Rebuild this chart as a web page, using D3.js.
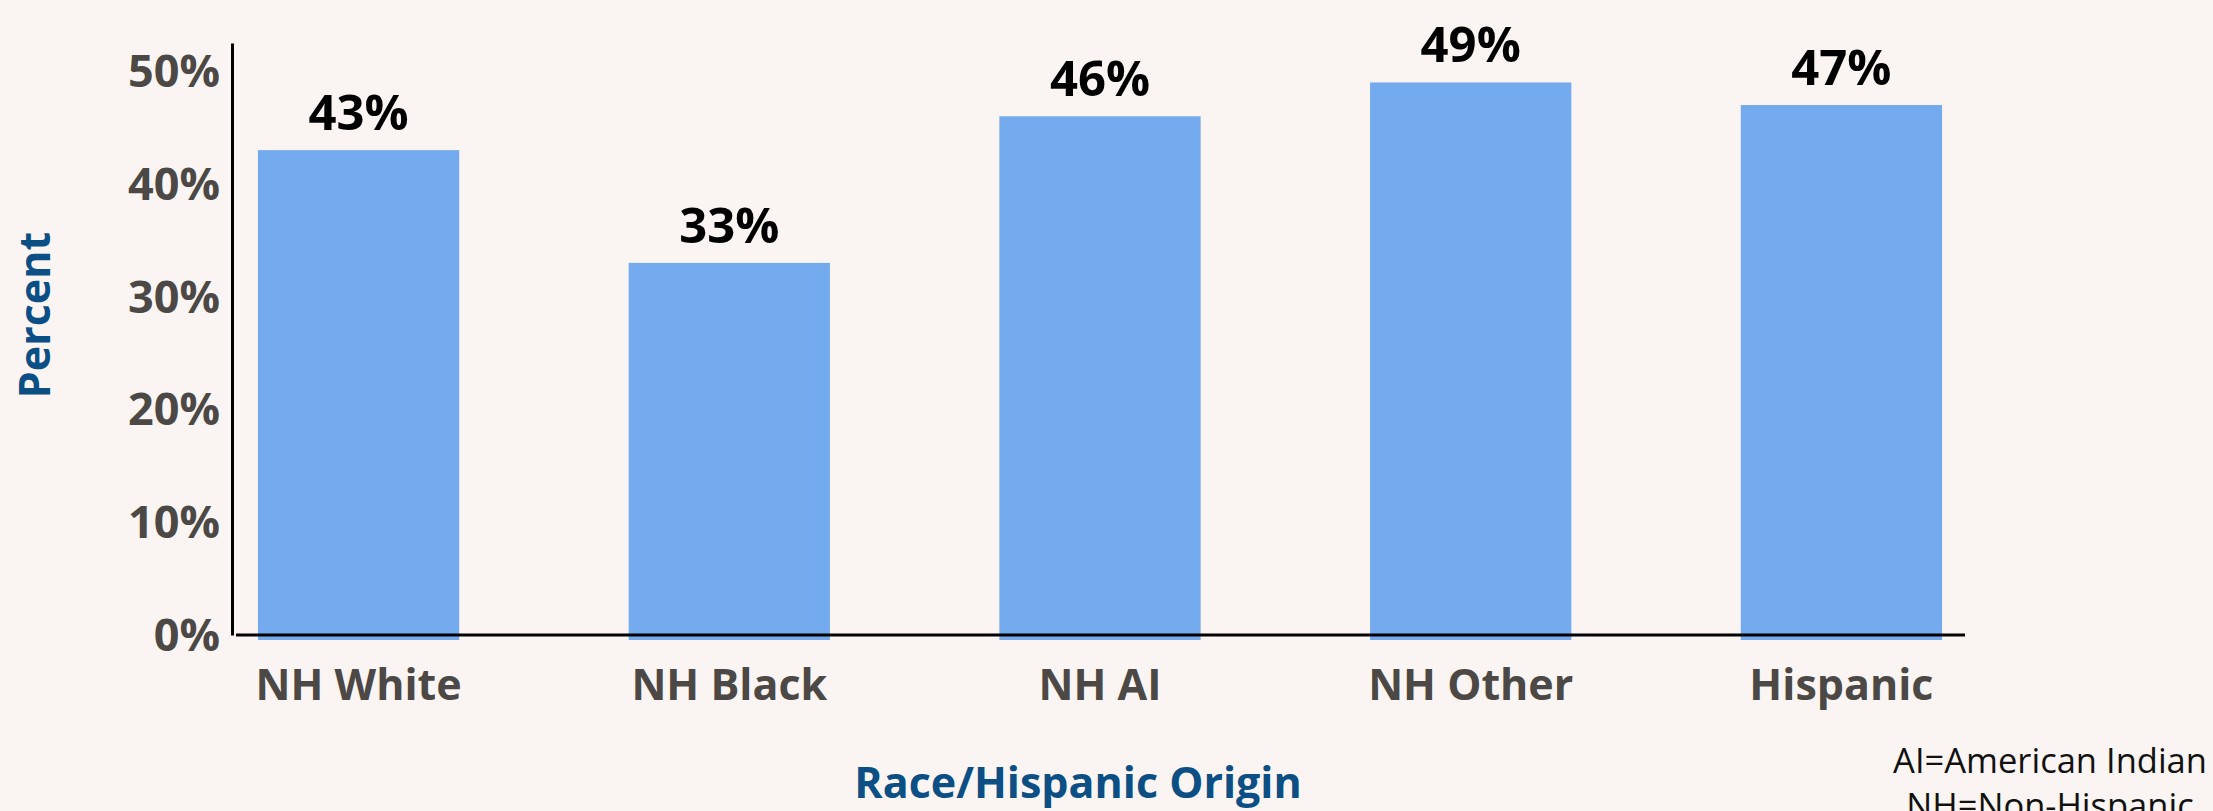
<!DOCTYPE html>
<head>
  <meta charset="utf-8">
  <script src="https://d3js.org/d3.v7.min.js"></script>
  <style>
  body { margin: 0; background: #faf5f2; }
  svg { display: block; font-family: "Open Sans", "DejaVu Sans", sans-serif; }
  .axis path { stroke: #000; stroke-width: 3px; }
  .axis text { font-family: "Open Sans", "DejaVu Sans", sans-serif; }
  .y.axis text { font-size: 45px; font-weight: 700; fill: #4b4845; }
  .x.axis text { font-size: 43px; font-weight: 700; fill: #4b4845; }
  .value { font-size: 49px; font-weight: 700; fill: #000; }
  .title { font-size: 43px; font-weight: 700; fill: #0b4f84; }
  .note { font-size: 34.5px; fill: #111; }
  </style>
</head>

<body>
  <script>
    // data
    var categories = ["NH White", "NH Black", "NH AI", "NH Other", "Hispanic"];
    var percents = [43, 33, 46, 49, 47];
    var yTicks = [0, 10, 20, 30, 40, 50];
    var notes = ["AI=American Indian", "NH=Non-Hispanic"];

    var width = 2213, height = 811;

    var svg = d3.select("body")
      .append("svg")
      .attr("width", width)
      .attr("height", height);

    svg.append("rect")
      .attr("width", width)
      .attr("height", height)
      .attr("fill", "#faf5f2");

    // scales
    var xScale = d3.scaleBand()
      .domain(categories)
      .range([232, 1968])
      .paddingInner(0.457)
      .paddingOuter(0.07);

    var yScale = d3.scaleLinear()
      .domain([0, 52.5])
      .range([635, 43]);

    // bars (they run a little under the axis line)
    svg.selectAll(".bar")
      .data(percents)
      .enter().append("rect")
      .attr("class", "bar")
      .attr("x", function(d, i) { return xScale(categories[i]); })
      .attr("width", xScale.bandwidth())
      .attr("y", function(d) { return yScale(d); })
      .attr("height", function(d) { return yScale(0) - yScale(d) + 5; })
      .attr("fill", "#74abef");

    // value labels
    svg.selectAll(".value")
      .data(percents)
      .enter().append("text")
      .attr("class", "value")
      .attr("x", function(d, i) { return xScale(categories[i]) + xScale.bandwidth() / 2; })
      .attr("y", function(d) { return yScale(d) - 20; })
      .attr("text-anchor", "middle")
      .text(function(d) { return d + "%"; });

    // y axis
    var yAxis = svg.append("g")
      .attr("class", "y axis")
      .attr("transform", "translate(232,0)")
      .call(d3.axisLeft(yScale)
        .tickValues(yTicks)
        .tickSize(0)
        .tickSizeOuter(0)
        .tickPadding(12)
        .tickFormat(function(d) { return d + "%"; }));
    yAxis.selectAll("text").attr("dy", "0.34em");

    // x axis
    var xAxis = svg.append("g")
      .attr("class", "x axis")
      .attr("transform", "translate(0," + yScale(0) + ")")
      .call(d3.axisBottom(xScale).tickSize(0).tickSizeOuter(0));
    xAxis.selectAll("text").attr("y", 65).attr("dy", 0);
    xAxis.select(".domain").attr("d", "M236,0H1965");

    // axis titles
    svg.append("text")
      .attr("class", "title")
      .attr("transform", "translate(50,315) rotate(-90)")
      .attr("text-anchor", "middle")
      .text("Percent");

    svg.append("text")
      .attr("class", "title")
      .attr("x", 1078)
      .attr("y", 798)
      .attr("text-anchor", "middle")
      .text("Race/Hispanic Origin");

    // footnote
    svg.selectAll(".note")
      .data(notes)
      .enter().append("text")
      .attr("class", "note")
      .attr("x", 2050)
      .attr("y", function(d, i) { return 773 + i * 45; })
      .attr("text-anchor", "middle")
      .text(function(d) { return d; });
  </script>
</body>
